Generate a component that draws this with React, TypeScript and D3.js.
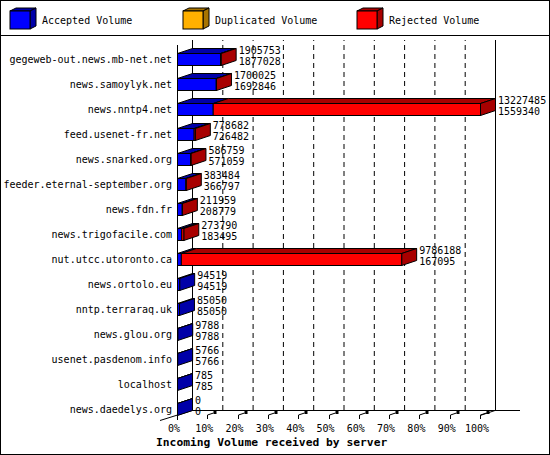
import React, { useEffect, useRef } from "react";
import * as d3 from "d3";

const servers = [
  "gegeweb-out.news.mb-net.net",
  "news.samoylyk.net",
  "news.nntp4.net",
  "feed.usenet-fr.net",
  "news.snarked.org",
  "feeder.eternal-september.org",
  "news.fdn.fr",
  "news.trigofacile.com",
  "nut.utcc.utoronto.ca",
  "news.ortolo.eu",
  "nntp.terraraq.uk",
  "news.glou.org",
  "usenet.pasdenom.info",
  "localhost",
  "news.daedelys.org",
];

// total offered volume (upper label)
const totalVolume = [
  1905753, 1700025, 13227485, 778682, 586759, 383484, 211959, 273790, 9786188,
  94519, 85050, 9788, 5766, 785, 0,
];

// accepted volume (lower label)
const acceptedVolume = [
  1877028, 1692846, 1559340, 726482, 571059, 366797, 208779, 183495, 167095,
  94519, 85050, 9788, 5766, 785, 0,
];

const legendLabels = ["Accepted Volume", "Duplicated Volume", "Rejected Volume"];
const percentTicks = [0, 10, 20, 30, 40, 50, 60, 70, 80, 90, 100];

const FONT = "'DejaVu Sans Mono', 'Liberation Mono', monospace";

const colors = [
  { front: "#0000ff", dark: "#0000a8" },
  { front: "#ffb000", dark: "#a87400" },
  { front: "#ff0000", dark: "#a80000" },
];

const App: React.FC = () => {
  const svgRef = useRef<SVGSVGElement | null>(null);

  useEffect(() => {
    const svg = d3.select(svgRef.current);
    svg.selectAll("*").remove();

    const W = 550;
    const H = 455;
    const dx = 15; // 3d depth
    const dy = -5;

    svg.append("rect").attr("x", 0).attr("y", 0).attr("width", W).attr("height", H).attr("fill", "#fff");

    // legend
    const legendX = [10, 183, 357];
    legendLabels.forEach((label, i) => {
      const x0 = legendX[i];
      const g = svg.append("g");
      g.append("path")
        .attr("d", `M${x0},11 L${x0 + 6},8 L${x0 + 26},8 L${x0 + 20},11 Z`)
        .attr("fill", colors[i].dark)
        .attr("stroke", "#000");
      g.append("path")
        .attr("d", `M${x0 + 20},11 L${x0 + 26},8 L${x0 + 26},26 L${x0 + 20},29 Z`)
        .attr("fill", colors[i].dark)
        .attr("stroke", "#000");
      g.append("rect")
        .attr("x", x0)
        .attr("y", 11)
        .attr("width", 20)
        .attr("height", 18)
        .attr("fill", colors[i].front)
        .attr("stroke", "#000");
      g.append("text")
        .attr("x", x0 + 32)
        .attr("y", 23.5)
        .attr("font-family", FONT)
        .attr("font-size", 10)
        .text(label);
    });

    svg.append("line").attr("x1", 0).attr("x2", W).attr("y1", 35.5).attr("y2", 35.5).attr("stroke", "#000");

    // scales
    const x0 = 177;
    const x1 = 480;
    const maxTotal = d3.max(totalVolume) ?? 1;
    const x = d3.scaleLinear().domain([0, maxTotal]).range([x0, x1]);
    const pct = d3.scaleLinear().domain([0, 100]).range([x0, x1]);
    const y = d3.scalePoint<string>().domain(servers).range([59, 409]);

    const backTop = 40;
    const floorY = 410;

    // back wall gridlines
    percentTicks.slice(1, -1).forEach((p) => {
      svg.append("line")
        .attr("x1", pct(p) + dx + 0.5)
        .attr("x2", pct(p) + dx + 0.5)
        .attr("y1", floorY)
        .attr("y2", backTop)
        .attr("stroke", "#000")
        .attr("stroke-dasharray", "5,4");
    });

    // frame lines
    const frame = [
      [x0 + dx + 0.5, backTop, x0 + dx + 0.5, floorY],
      [x1 + dx + 0.5, backTop, x1 + dx + 0.5, floorY],
      [x0 + dx, floorY + 0.5, 520, floorY + 0.5],
      [x0 + 0.5, backTop - dy, x0 + 0.5, floorY - dy + 5],
      [x0 - dx - 2, floorY - 2 * dy + 0.5, x0 + dx, floorY + 0.5],
      [x1, floorY - dy + 0.5, x1 + dx, floorY + 0.5],
    ];
    frame.forEach(([a, b, c, d]) => {
      svg.append("line").attr("x1", a).attr("y1", b).attr("x2", c).attr("y2", d).attr("stroke", "#000");
    });

    // ticks
    percentTicks.forEach((p) => {
      const tx = Math.round(pct(p)) + 0.5;
      if (p > 0) {
        svg.append("path")
          .attr("d", `M${tx},419 L${tx},415 L${tx + 6},413`)
          .attr("fill", "none")
          .attr("stroke", "#000");
        svg.append("rect").attr("x", tx + 6).attr("y", 411).attr("width", 3).attr("height", 3).attr("fill", "#000");
      }
      svg.append("text")
        .attr("x", pct(p) - 3)
        .attr("y", 432)
        .attr("text-anchor", "middle")
        .attr("font-family", FONT)
        .attr("font-size", 10)
        .text(`${p}%`);
    });

    // bars
    const bh = 12;
    const drawBox = (xa: number, xb: number, yc: number, front: string, dark: string, side: boolean) => {
      const t = yc - bh / 2;
      const b = yc + bh / 2;
      svg.append("path")
        .attr("d", `M${xa},${t} L${xa + dx},${t + dy} L${xb + dx},${t + dy} L${xb},${t} Z`)
        .attr("fill", dark)
        .attr("stroke", "#000");
      if (side) {
        svg.append("path")
          .attr("d", `M${xb},${t} L${xb + dx},${t + dy} L${xb + dx},${b + dy} L${xb},${b} Z`)
          .attr("fill", dark)
          .attr("stroke", "#000");
      }
      svg.append("rect")
        .attr("x", xa)
        .attr("y", t)
        .attr("width", Math.max(0, xb - xa))
        .attr("height", bh)
        .attr("fill", front)
        .attr("stroke", "#000");
    };

    servers.forEach((s, i) => {
      const yc = (y(s) ?? 0) + 0.5;
      const acc = acceptedVolume[i];
      const tot = totalVolume[i];
      const rej = tot - acc;
      const xa = x0 + 0.5;
      const xm = x(acc) + 0.5;
      const xe = x(tot) + 0.5;
      drawBox(xa, xm, yc, colors[0].front, colors[0].dark, rej <= 0);
      if (rej > 0) drawBox(xm, xe, yc, colors[2].front, colors[2].dark, true);

      const lx = x(tot) + dx + 3;
      svg.append("text")
        .attr("x", lx)
        .attr("y", yc - 6)
        .attr("font-family", FONT)
        .attr("font-size", 10)
        .text(String(tot));
      svg.append("text")
        .attr("x", lx)
        .attr("y", yc + 5)
        .attr("font-family", FONT)
        .attr("font-size", 10)
        .text(String(acc));

      svg.append("text")
        .attr("x", 172)
        .attr("y", yc + 3.5)
        .attr("text-anchor", "end")
        .attr("font-family", FONT)
        .attr("font-size", 10)
        .text(s);
    });

    svg.append("text")
      .attr("x", 156)
      .attr("y", 446)
      .attr("font-family", FONT)
      .attr("font-size", 11.3)
      .attr("font-weight", "bold")
      .text("Incoming Volume received by server");

    svg.append("rect")
      .attr("x", 0.5)
      .attr("y", 0.5)
      .attr("width", W - 1)
      .attr("height", H - 1)
      .attr("fill", "none")
      .attr("stroke", "#000");
  }, []);

  return (
    <svg
      ref={svgRef}
      width={550}
      height={455}
      style={{ position: "absolute", left: 0, top: 0 }}
    ></svg>
  );
};

export default App;
